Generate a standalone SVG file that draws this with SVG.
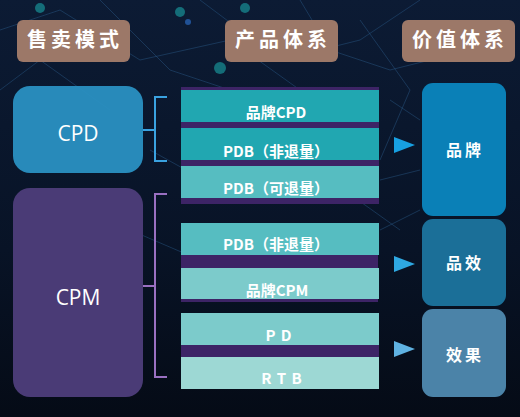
<svg xmlns="http://www.w3.org/2000/svg" width="520" height="417" viewBox="0 0 520 417">
<defs>
<linearGradient id="bg" x1="0" y1="0" x2="0" y2="1">
<stop offset="0" stop-color="#0c1b34"/>
<stop offset="0.6" stop-color="#081326"/>
<stop offset="1" stop-color="#050b16"/>
</linearGradient>
<style>
.hdr{fill:#9c7868;}
.hdrt{font-family:"Noto Sans CJK SC","Noto Sans",sans-serif;font-weight:700;font-size:20px;fill:#fff;letter-spacing:4px;text-anchor:middle;}
.big{font-family:"Open Sans","Noto Sans",sans-serif;font-size:21px;fill:#fff;text-anchor:middle;}
.bar{font-family:"Noto Sans CJK SC","Noto Sans",sans-serif;font-weight:700;font-size:15px;fill:#fff;text-anchor:middle;}
.val{font-family:"Noto Sans CJK SC","Noto Sans",sans-serif;font-weight:700;font-size:16px;fill:#fff;text-anchor:middle;letter-spacing:3px;}
.deco{stroke:#2a5a8a;stroke-width:1;fill:none;opacity:0.45;}
.brk{fill:none;stroke-width:2;}
</style>
</defs>
<rect width="520" height="417" fill="url(#bg)"/>
<g id="background-decoration">
<path class="deco" d="M0 30 L60 10 L140 60 L230 40 L300 90 M100 0 L170 70 L260 100 M200 0 L280 60 L360 40 L420 0 M0 90 L40 60 L110 110 M300 0 L330 50 L390 70 L470 50 M150 150 L240 200 L330 180 L400 230 M130 230 L200 260 M360 20 L410 90 L380 160 M390 100 L420 120 M380 180 L420 170 M380 230 L420 210"/>
<circle cx="40" cy="8" r="5" fill="#1aa5a8" opacity="0.6"/>
<circle cx="180" cy="12" r="5" fill="#1aa5a8" opacity="0.6"/>
<circle cx="245" cy="8" r="5" fill="#1aa5a8" opacity="0.6"/>
<circle cx="220" cy="68" r="6" fill="#1aa5a8" opacity="0.6"/>
<circle cx="188" cy="22" r="3" fill="#2a6ac0" opacity="0.7"/>
</g>
<g id="header-sales">
<rect class="hdr" x="17" y="20" width="113" height="42" rx="6"/>
<text class="hdrt" x="75" y="47">售卖模式</text>
</g>
<g id="header-product">
<rect class="hdr" x="225" y="20" width="113" height="42" rx="6"/>
<text class="hdrt" x="283" y="47">产品体系</text>
</g>
<g id="header-value">
<rect class="hdr" x="402" y="20" width="113" height="42" rx="6"/>
<text class="hdrt" x="460" y="47">价值体系</text>
</g>
<g id="node-cpd">
<rect x="13" y="86" width="130" height="87" rx="17" fill="#2a90c2" opacity="0.95"/>
<text class="big" x="78" y="141">CPD</text>
</g>
<g id="node-cpm">
<rect x="13" y="188" width="130" height="209" rx="17" fill="#4a3b76"/>
<text class="big" x="78" y="305">CPM</text>
</g>
<g id="product-stack">
<rect x="181" y="87" width="198" height="117" fill="#3d2466"/>
<rect x="181" y="255" width="197" height="47" fill="#3d2466"/>
<rect x="181" y="345" width="198" height="12" fill="#3d2466"/>
</g>
<g id="bar-brand-cpd">
<rect x="181" y="90" width="198" height="32" fill="#21a7b1"/>
<text class="bar" x="276" y="118">品牌CPD</text>
</g>
<g id="bar-pdb-nonreturn-1">
<rect x="181" y="128" width="198" height="32" fill="#21a7b1"/>
<text class="bar" x="276" y="157">PDB（非退量）</text>
</g>
<g id="bar-pdb-return">
<rect x="181" y="166" width="198" height="32" fill="#56bdc1"/>
<text class="bar" x="276" y="194">PDB（可退量）</text>
</g>
<g id="bar-pdb-nonreturn-2">
<rect x="181" y="223" width="198" height="32" fill="#56bdc1"/>
<text class="bar" x="276" y="250">PDB（非退量）</text>
</g>
<g id="bar-brand-cpm">
<rect x="181" y="268" width="198" height="31" fill="#7ccbcb"/>
<text class="bar" x="277" y="296">品牌CPM</text>
</g>
<g id="bar-pd">
<rect x="181" y="313" width="198" height="32" fill="#7ccbcb"/>
<text class="bar" x="279" y="341" letter-spacing="1">P D</text>
</g>
<g id="bar-rtb">
<rect x="181" y="357" width="198" height="32" fill="#9dd8d4"/>
<text class="bar" x="282" y="384" letter-spacing="1">R T B</text>
</g>
<g id="node-brand">
<rect x="422" y="83" width="84" height="133" rx="11" fill="#0a80b7"/>
<text class="val" x="465" y="156">品牌</text>
</g>
<g id="node-brand-effect">
<rect x="422" y="219" width="84" height="87" rx="11" fill="#1b6f98"/>
<text class="val" x="465" y="269">品效</text>
</g>
<g id="node-effect">
<rect x="422" y="309" width="84" height="88" rx="11" fill="#4b83a8"/>
<text class="val" x="465" y="361">效果</text>
</g>
<g id="connectors">
<path class="brk" stroke="#3aa2e0" d="M167 97 L155 97 L155 161 L167 161 M155 130 L143 130"/>
<path class="brk" stroke="#9a70c2" d="M167 194 L155 194 L155 377 L167 377 M155 286 L143 286"/>
<polygon points="394,137 415,145 394,153" fill="#17a0e2"/>
<polygon points="394,256 415,264 394,272" fill="#2ea8e2"/>
<polygon points="394,341 415,349 394,357" fill="#5fb2e2"/>
</g>
</svg>
